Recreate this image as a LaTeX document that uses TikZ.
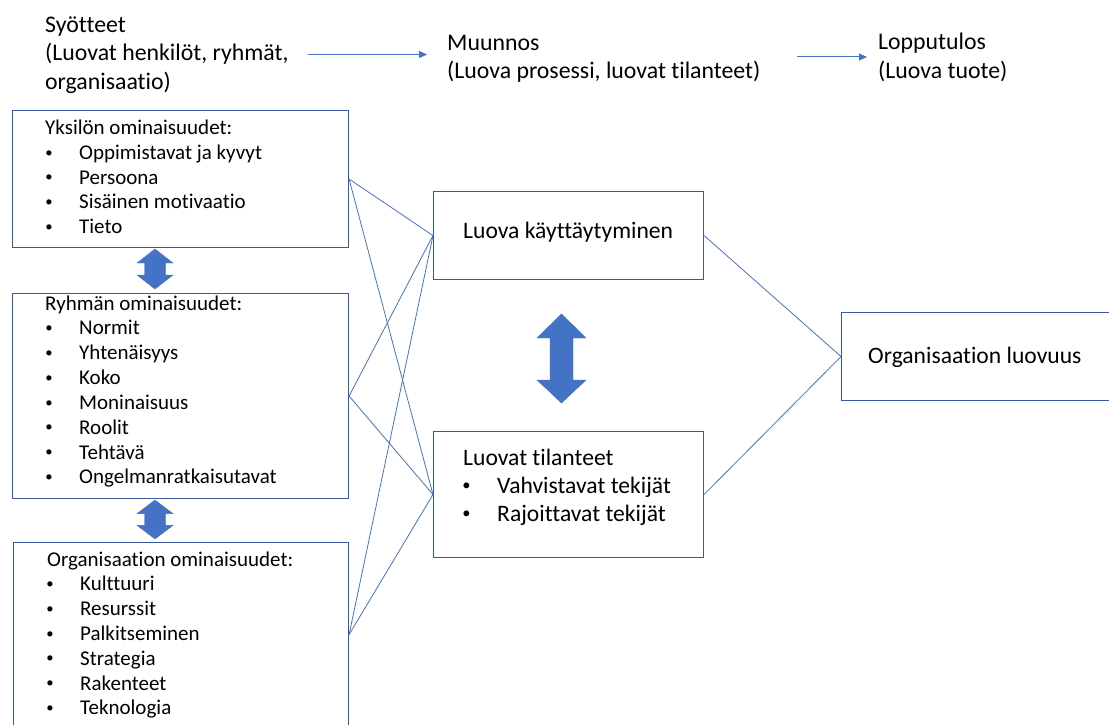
\documentclass[tikz,border=0pt]{standalone}
\usepackage{fontspec}
\setmainfont{Carlito}[Ligatures=NoCommon]
\usetikzlibrary{arrows.meta}

\definecolor{boxline}{HTML}{37599E}
\definecolor{linkline}{HTML}{4472C4}
\definecolor{blockfill}{HTML}{4472C4}

\tikzset{
  panel/.style={draw=boxline, line width=1.1pt, fill=none, anchor=north west, inner sep=0pt},
  link/.style={draw=linkline, line width=0.8pt},
  flow/.style={draw=linkline, line width=1pt, -{Triangle[length=8pt,width=7pt]}},
  block/.style={fill=blockfill, draw=blockfill, line width=0.4pt, line join=miter},
  headtxt/.style={anchor=base west, inner sep=0pt, font=\fontsize{23.8}{28}\selectfont},
  sidetxt/.style={anchor=base west, inner sep=0pt, font=\fontsize{21}{24}\selectfont},
  midtxt/.style={anchor=base west, inner sep=0pt, font=\fontsize{23.6}{27}\selectfont},
}
% small bullet hung to the left of an item text
\newcommand{\bul}{\llap{\raisebox{2.4pt}{\scalebox{0.7}{\textbullet}}\hspace{26.5pt}}}

\begin{document}
\begin{tikzpicture}[x=1pt,y=-1pt]
\useasboundingbox (0,0) rectangle (1109,725);
\clip (0,0) rectangle (1109,725);

% ---- process headings ----
\node[headtxt] (in1) at (45,33) {Syötteet};
\node[headtxt] (in2) at (45,61) {(Luovat henkilöt, ryhmät,};
\node[headtxt] (in3) at (45,89) {organisaatio)};
\node[headtxt] (tr1) at (447,51) {Muunnos};
\node[headtxt] (tr2) at (447,79) {(Luova prosessi, luovat tilanteet)};
\node[headtxt] (out1) at (878,50) {Lopputulos};
\node[headtxt] (out2) at (878,78) {(Luova tuote)};

\coordinate (f1s) at (308,54.5);
\coordinate (f1e) at (427,54.5);
\coordinate (f2s) at (797,57);
\coordinate (f2e) at (867,57);
\draw[flow] (f1s) -- (f1e);
\draw[flow] (f2s) -- (f2e);

% ---- panels ----
\node[panel, minimum width=336pt, minimum height=137pt] (b1) at (12,110) {};
\node[panel, minimum width=336pt, minimum height=205pt] (b2) at (12,293) {};
\node[panel, minimum width=335pt, minimum height=184pt] (b3) at (13,542) {};
\node[panel, minimum width=270pt, minimum height=88pt]  (b4) at (433,191) {};
\node[panel, minimum width=270pt, minimum height=126pt] (b5) at (433,431) {};
\node[panel, minimum width=290pt, minimum height=88pt]  (b6) at (841,312) {};

% ---- connectors ----
\foreach \s in {b1,b2,b3}{
  \draw[link] (\s.east) -- (b4.west);
  \draw[link] (\s.east) -- (b5.west);
}
\draw[link] (b4.east) -- (b6.west);
\draw[link] (b5.east) -- (b6.west);

% ---- panel texts ----
\node[sidetxt] (t1) at (45,135) {Yksilön ominaisuudet:};
\foreach \t [count=\i] in {Oppimistavat ja kyvyt, Persoona, Sisäinen motivaatio, Tieto}
  \node[sidetxt] (t1i\i) at (79,{135+24.6*\i}) {\bul\t};

\node[sidetxt] (t2) at (45,310) {Ryhmän ominaisuudet:};
\foreach \t [count=\i] in {Normit, Yhtenäisyys, Koko, Moninaisuus, Roolit, Tehtävä, Ongelmanratkaisutavat}
  \node[sidetxt] (t2i\i) at (79,{310+24.85*\i}) {\bul\t};

\node[sidetxt] (t3) at (47,566) {Organisaation ominaisuudet:};
\foreach \t [count=\i] in {Kulttuuri, Resurssit, Palkitseminen, Strategia, Rakenteet, Teknologia}
  \node[sidetxt] (t3i\i) at (80,{566+24.8*\i}) {\bul\t};

\node[midtxt] (t4) at (463,238) {Luova käyttäytyminen};
\node[midtxt] (t5) at (463,465) {Luovat tilanteet};
\node[midtxt] (t5i1) at (497,493) {\bul Vahvistavat tekijät};
\node[midtxt] (t5i2) at (497,521) {\bul Rajoittavat tekijät};
\node[midtxt] (t6) at (868,363) {Organisaation luovuus};

% ---- double block arrows ----
% small ones between the left panels
\foreach \top/\bot/\nm in {249/289/da1, 500/539/da2}{
  \pgfmathsetmacro{\hh}{(\bot-\top)*0.35}
  \draw[block] (155,\top) -- (173,\top+\hh) -- (165.5,\top+\hh) -- (165.5,\bot-\hh)
    -- (173,\bot-\hh) -- (155,\bot) -- (137,\bot-\hh) -- (144.5,\bot-\hh)
    -- (144.5,\top+\hh) -- (137,\top+\hh) -- cycle;
}
% large one between the middle panels
\draw[block] (561.5,314) -- (586,338) -- (573,338) -- (573,380) -- (586,380)
  -- (561.5,403) -- (537,380) -- (550,380) -- (550,338) -- (537,338) -- cycle;
\end{tikzpicture}
\end{document}
